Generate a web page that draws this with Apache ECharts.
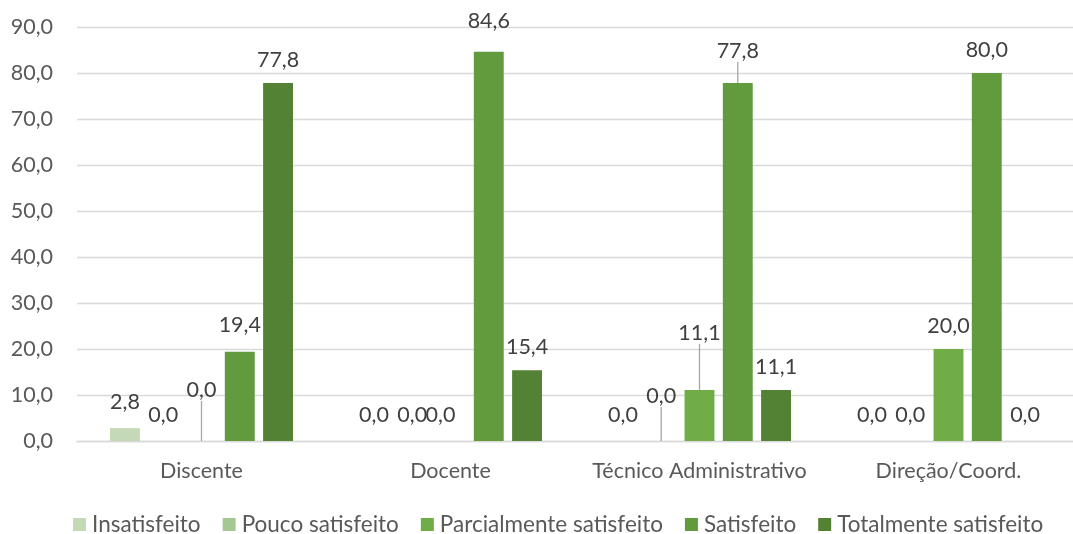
<!DOCTYPE html>
<html>
<head>
<meta charset="utf-8">
<script src="https://cdn.jsdelivr.net/npm/echarts@6/dist/echarts.min.js"></script>
<style>
html,body{margin:0;padding:0;background:#fff;}
#chart{width:1073px;height:534px;}
</style>
</head>
<body>
<div id="chart"></div>
<script>
const categories = ['Discente', 'Docente', 'Técnico Administrativo', 'Direção/Coord.'];
const seriesNames = ['Insatisfeito', 'Pouco satisfeito', 'Parcialmente satisfeito', 'Satisfeito', 'Totalmente satisfeito'];
const insatisfeito = [2.8, 0.0, 0.0, 0.0];
const poucoSatisfeito = [0.0, 0.0, 0.0, 0.0];
const parcialmenteSatisfeito = [0.0, 0.0, 11.1, 20.0];
const satisfeito = [19.4, 84.6, 77.8, 80.0];
const totalmenteSatisfeito = [77.8, 15.4, 11.1, 0.0];
const yTicks = [0, 10, 20, 30, 40, 50, 60, 70, 80, 90];

const allValues = [insatisfeito, poucoSatisfeito, parcialmenteSatisfeito, satisfeito, totalmenteSatisfeito];
const colors = ['#c4dab6', '#a5c893', '#70ad47', '#619b3e', '#548235'];

// label displacement (style only): key "series-index" -> [dx, dy, leaderLine]
const labelMoves = {
  '0-0': [0, -3, false],
  '2-0': [0, -28, true],
  '3-0': [0, -4, false],
  '3-1': [0, -8, false],
  '2-1': [-10, -3, false],
  '1-2': [0, -22, true],
  '2-2': [0, -34, true],
  '3-2': [0, -9, true]
};

const fmt = v => Number(v).toFixed(1).replace('.', ',');
const font = 'Lato, "Open Sans", sans-serif';

const series = seriesNames.map((name, s) => ({
  name: name,
  type: 'bar',
  barGap: '28%',
  barCategoryGap: '26.5%',
  itemStyle: { color: colors[s] },
  label: {
    show: true,
    position: 'top',
    distance: 12,
    formatter: p => fmt(p.value),
    color: '#404040',
    fontSize: 21.5,
    fontFamily: font
  },
  labelLine: { show: false, lineStyle: { color: '#a6a6a6', width: 1.3 } },
  labelLayout: function (params) {
    const key = s + '-' + params.dataIndex;
    const m = labelMoves[key];
    const v = allValues[s][params.dataIndex];
    if (m) return { dx: m[0], dy: m[1] };
    if (v === 0) return { dy: -3 };
    return {};
  },
  data: allValues[s].map((v, i) => {
    const m = labelMoves[s + '-' + i];
    const item = { value: v };
    if (m && m[2]) item.labelLine = { show: true, lineStyle: { color: '#a6a6a6', width: 1.3 } };
    return item;
  })
}));

const chart = echarts.init(document.getElementById('chart'), null, { renderer: 'canvas' });
chart.setOption({
  animation: false,
  backgroundColor: '#ffffff',
  color: colors,
  textStyle: { fontFamily: font },
  grid: { left: 77, right: -10, top: 27, bottom: 93, containLabel: false },
  legend: {
    data: seriesNames,
    left: 73,
    top: 513,
    padding: 0,
    itemWidth: 13,
    itemHeight: 13,
    itemGap: 22,
    icon: 'rect',
    textStyle: { color: '#595959', fontSize: 22.5, fontFamily: font, padding: [0, 0, 0, 1] }
  },
  xAxis: {
    type: 'category',
    data: categories,
    axisLine: { show: true, lineStyle: { color: '#d9d9d9', width: 1.3 } },
    axisTick: { show: false },
    axisLabel: { interval: 0, color: '#595959', fontSize: 21.5, fontFamily: font, margin: 19 }
  },
  yAxis: {
    type: 'value',
    min: yTicks[0],
    max: yTicks[yTicks.length - 1],
    interval: 10,
    axisLine: { show: false },
    axisTick: { show: false },
    splitLine: { lineStyle: { color: '#d9d9d9', width: 1.3 } },
    axisLabel: { color: '#595959', fontSize: 21.5, fontFamily: font, margin: 24, formatter: v => fmt(v) }
  },
  series: series
});
</script>
</body>
</html>
